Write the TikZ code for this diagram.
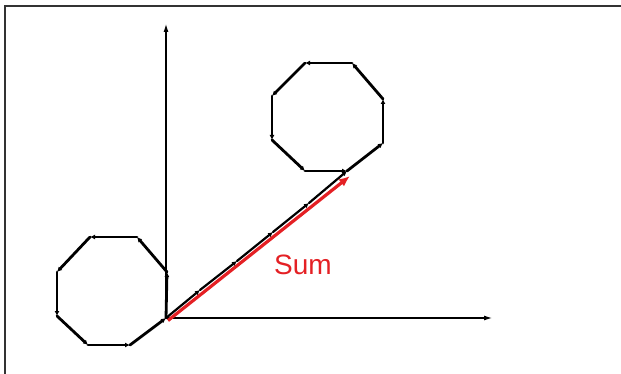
\documentclass[tikz,border=0pt]{standalone}
\usepackage{fontspec}
\setmainfont{Liberation Sans}
\usetikzlibrary{arrows.meta}
\definecolor{sumred}{RGB}{228,32,36}
\tikzset{
axis/.style={line width=1.1pt,-{Latex[length=8pt,width=5pt]}},
edge/.style={line width=2.8pt,line cap=round,-{Latex[length=5pt,width=5pt]}},
sumarrow/.style={sumred,line width=3.2pt,-{Latex[length=11pt,width=9pt]}}
}
\begin{document}
\begin{tikzpicture}[x=1pt,y=-1pt]
\useasboundingbox (0,0) rectangle (621,374);

% Cadre
\draw[black!80,line width=1.4pt] (5,374) -- (5,6) -- (621,6);

% Axes
\coordinate (O) at (166,318);
\coordinate (xend) at (492,318);
\coordinate (yend) at (166,24);
\draw[axis] (O) -- (xend);
\draw[axis] (O) -- (yend);

% Octogone de depart
\foreach \n/\x/\y in {
1/166/318,2/167/272,3/137/237,4/90/237,
5/57/272,6/57/316,7/88/345,8/130/345
}
{
\coordinate (a\n) at (\x,\y);
}

% Octogone d'arrivee
\foreach \n/\x/\y in {
1/383/143,2/383/99,3/352/63,4/305/63,
5/272/96,6/272/140,7/305/171,8/347/171
}
{
\coordinate (b\n) at (\x,\y);
}

\foreach \i/\j in {1/2,2/3,3/4,4/5,5/6,6/7,7/8,8/1}
{
\draw[edge] (a\i) -- (a\j);
\draw[edge] (b\i) -- (b\j);
}

% Chaine de vecteurs
\foreach \n/\x/\y in {
1/200/290,2/237/261,3/273/232,4/309/203
}
{
\coordinate (c\n) at (\x,\y);
}

\draw[edge,line width=2.2pt] (O) -- (c1);
\draw[edge,line width=2.2pt] (c1) -- (c2);
\draw[edge,line width=2.2pt] (c2) -- (c3);
\draw[edge,line width=2.2pt] (c3) -- (c4);
\draw[edge,line width=2.2pt] (c4) -- (b8);

% Somme
\draw[sumarrow] ([shift={(2,2.5)}]O) -- ([shift={(3,5)}]b8);

\node[sumred,font=\fontsize{28}{30}\selectfont] (sum) at (303,265) {Sum};

\end{tikzpicture}
\end{document}
